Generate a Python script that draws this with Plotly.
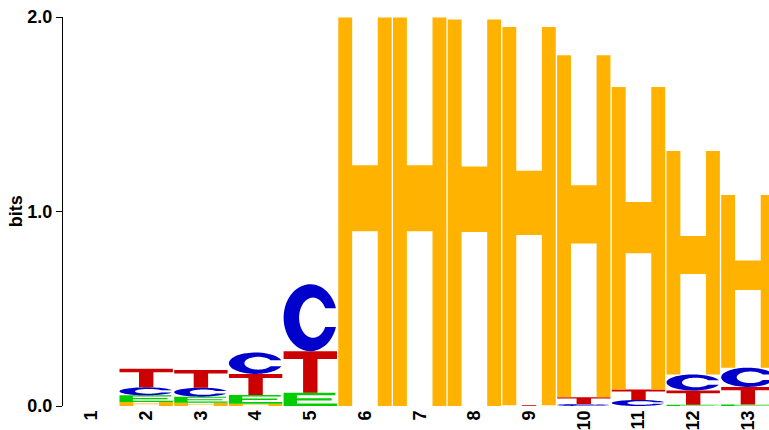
import numpy as np
import plotly.graph_objects as go

# Secondary-structure sequence logo: stacked letter heights (bits) per position
positions = list(range(1, 14))
tick_labels = [str(p) for p in positions]

bits_H = [0.0, 0.020, 0.017, 0.012, 0.0, 1.997, 1.997, 1.987, 1.944, 1.758, 1.555, 1.149, 0.888]
bits_E = [0.0, 0.035, 0.031, 0.045, 0.068, 0.0, 0.0, 0.0, 0.0, 0.0, 0.0, 0.006, 0.008]
bits_C = [0.0, 0.041, 0.046, 0.110, 0.344, 0.0, 0.0, 0.0, 0.0, 0.010, 0.031, 0.082, 0.099]
bits_T = [0.0, 0.095, 0.091, 0.108, 0.214, 0.0, 0.0, 0.0, 0.004, 0.035, 0.054, 0.074, 0.090]

letter_colors = {"H": "#FFB300", "E": "#00CC00", "C": "#0000CC", "T": "#CC0000"}
heights = {"H": bits_H, "E": bits_E, "C": bits_C, "T": bits_T}

GLYPH_WIDTH = 0.976


def glyph_outline(letter):
    """Unit-box outline (u, v in 0..1) of a bold sans-serif capital."""
    if letter == "H":
        s, b0, b1 = 0.26, 0.45, 0.62
        return [(0, 0), (s, 0), (s, b0), (1 - s, b0), (1 - s, 0), (1, 0), (1, 1),
                (1 - s, 1), (1 - s, b1), (s, b1), (s, 1), (0, 1)]
    if letter == "T":
        a, b, t = 0.365, 0.635, 0.81
        return [(a, 0), (b, 0), (b, t), (1, t), (1, 1), (0, 1), (0, t), (a, t)]
    if letter == "E":
        s = 0.25
        return [(0, 0), (1, 0), (1, 0.19), (s, 0.19), (s, 0.41), (0.9, 0.41),
                (0.9, 0.59), (s, 0.59), (s, 0.81), (0.97, 0.81), (0.97, 1), (0, 1)]
    if letter == "C":
        cut = 0.14
        to = np.arcsin(cut / 0.5)
        ti = np.arcsin(cut / 0.30)
        outer = np.linspace(to, 2 * np.pi - to, 60)
        inner = np.linspace(2 * np.pi - ti, ti, 50)
        pts = [(0.5 + 0.5 * np.cos(a), 0.5 + 0.5 * np.sin(a)) for a in outer]
        pts += [(0.55 + 0.26 * np.cos(a), 0.5 + 0.30 * np.sin(a)) for a in inner]
        return pts
    raise ValueError(letter)


def glyph_path(letter, xc, y0, h):
    pts = glyph_outline(letter)
    coords = []
    for u, v in pts:
        x = xc - GLYPH_WIDTH / 2 + u * GLYPH_WIDTH
        y = y0 + v * h
        coords.append(f"{x:.5f},{y:.5f}")
    return "M " + " L ".join(coords) + " Z"


shapes = []
for i, pos in enumerate(positions):
    stack = sorted(((heights[k][i], k) for k in heights), key=lambda t: t[0])
    base = 0.0
    for h, letter in stack:
        if h <= 0:
            continue
        shapes.append(dict(
            type="path", xref="x", yref="y",
            path=glyph_path(letter, pos, base, h),
            fillcolor=letter_colors[letter],
            line=dict(width=0),
            layer="above",
        ))
        base += h

font_family = "Liberation Sans, Arial, Helvetica, sans-serif"

fig = go.Figure()
fig.update_layout(
    width=769, height=430,
    margin=dict(l=63, r=0, t=17, b=24, pad=0),
    paper_bgcolor="white", plot_bgcolor="white",
    shapes=shapes,
    showlegend=False,
    font=dict(family=font_family, size=18, color="black"),
)
fig.update_xaxes(
    range=[0.479, 13.386],
    tickmode="array", tickvals=positions, ticktext=tick_labels,
    tickangle=-90, tickfont=dict(family=font_family, size=18, color="black", weight="bold"),
    showline=False, showgrid=False, zeroline=False, ticks="",
    automargin=False, fixedrange=True,
)
fig.update_yaxes(
    range=[0, 2],
    tickmode="array", tickvals=[0, 1, 2], ticktext=["0.0", "1.0", "2.0"],
    tickfont=dict(family=font_family, size=18, color="black", weight="bold"),
    showline=True, linecolor="black", linewidth=1,
    ticks="outside", ticklen=6, tickwidth=1, tickcolor="black",
    showgrid=False, zeroline=False, automargin=False, fixedrange=True,
)
fig.add_annotation(
    text="bits", xref="paper", yref="y", x=-0.067, y=1.0,
    xanchor="center", yanchor="middle", textangle=-90, showarrow=False,
    font=dict(family=font_family, size=18, color="black", weight="bold"),
)

fig.write_html("out.html", config={"displayModeBar": False})
